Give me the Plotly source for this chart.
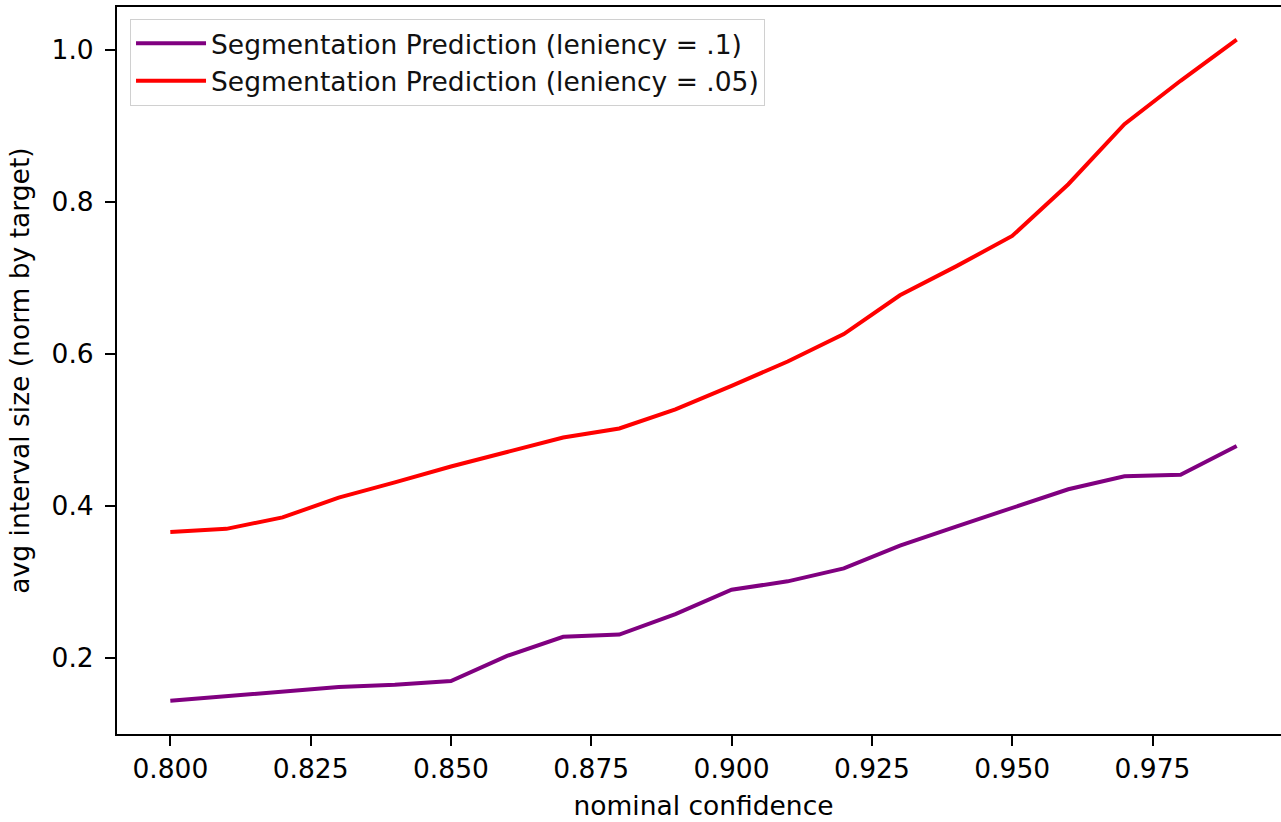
import plotly.graph_objects as go

confidence = [0.80, 0.81, 0.82, 0.83, 0.84, 0.85, 0.86, 0.87, 0.88, 0.89,
              0.90, 0.91, 0.92, 0.93, 0.94, 0.95, 0.96, 0.97, 0.98, 0.99]
size_len_10 = [0.144, 0.150, 0.157, 0.162, 0.165, 0.170, 0.203, 0.228, 0.231, 0.258,
               0.290, 0.301, 0.318, 0.348, 0.373, 0.398, 0.422, 0.439, 0.441, 0.479]
size_len_05 = [0.366, 0.370, 0.385, 0.411, 0.431, 0.452, 0.471, 0.490, 0.502, 0.527,
               0.558, 0.590, 0.626, 0.677, 0.715, 0.755, 0.823, 0.902, 0.959, 1.013]

series_names = ["Segmentation Prediction (leniency = .1)",
                "Segmentation Prediction (leniency = .05)"]
x_ticks = [0.800, 0.825, 0.850, 0.875, 0.900, 0.925, 0.950, 0.975]
x_tick_labels = ["0.800", "0.825", "0.850", "0.875", "0.900", "0.925", "0.950", "0.975"]
y_ticks = [0.2, 0.4, 0.6, 0.8, 1.0]
y_tick_labels = ["0.2", "0.4", "0.6", "0.8", "1.0"]

FONT = "DejaVu Sans"
FS = 26.5

fig = go.Figure()
fig.add_trace(go.Scatter(x=confidence, y=size_len_10, mode="lines",
                         name=series_names[0],
                         line=dict(color="#800080", width=4)))
fig.add_trace(go.Scatter(x=confidence, y=size_len_05, mode="lines",
                         name=series_names[1],
                         line=dict(color="#ff0000", width=4)))

# plot area extends past the right edge of the window (cropped like the reference)
fig.update_layout(
    width=1310, height=822,
    margin=dict(l=117, r=20, t=5, b=88),
    paper_bgcolor="white", plot_bgcolor="white",
    font=dict(family=FONT, size=FS, color="black"),
    showlegend=True,
    legend=dict(x=0.0111, y=0.984, xanchor="left", yanchor="top",
                bgcolor="white", bordercolor="#d0d0d0", borderwidth=1,
                font=dict(family=FONT, size=FS, color="#111111"),
                tracegroupgap=0, itemwidth=70),
    xaxis=dict(
        range=[0.7905, 0.9995],
        tickvals=x_ticks, ticktext=x_tick_labels,
        showgrid=False, zeroline=False,
        showline=True, linecolor="black", linewidth=2, mirror=True,
        ticks="outside", ticklen=10, tickwidth=2, tickcolor="black",
        title=dict(text="nominal confidence", font=dict(family=FONT, size=FS), standoff=14),
    ),
    yaxis=dict(
        range=[0.1003, 1.056],
        tickvals=y_ticks, ticktext=y_tick_labels,
        showgrid=False, zeroline=False,
        showline=True, linecolor="black", linewidth=2,
        ticks="outside", ticklen=10, tickwidth=2, tickcolor="black",
        ticklabelstandoff=6,
        title=dict(text="avg interval size (norm by target)", font=dict(family=FONT, size=FS), standoff=14),
    ),
)

fig.write_html(
    "out.html", config={"displayModeBar": False},
    post_script=("document.body.style.margin='0';"
                 "document.body.style.overflow='hidden';"
                 "document.documentElement.style.overflow='hidden';"))
